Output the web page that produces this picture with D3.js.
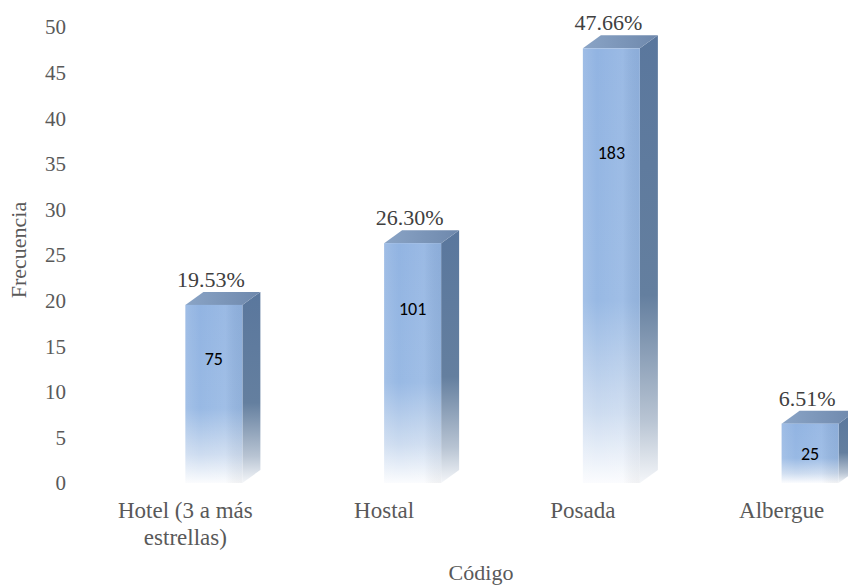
<!DOCTYPE html>
<html>
<head>
<meta charset="utf-8">
<script src="https://cdn.jsdelivr.net/npm/d3@7"></script>
<style>
  html, body { margin: 0; padding: 0; background: #ffffff; }
  svg { display: block; }
</style>
</head>
<body>
<script>
// Tipo de alojamiento: porcentaje (altura de la barra) y número de casos
const categories = [["Hotel (3 a más", "estrellas)"], ["Hostal"], ["Posada"], ["Albergue"]];
const percentages = [19.53, 26.30, 47.66, 6.51];
const counts = [75, 101, 183, 25];
const yTicks = [0, 5, 10, 15, 20, 25, 30, 35, 40, 45, 50];
const yTitle = "Frecuencia";
const xTitle = "Código";

const W = 848, H = 588;
const svg = d3.select("body").append("svg").attr("width", W).attr("height", H);

const keys = categories.map(c => c.join(" "));
const x = d3.scaleBand().domain(keys).range([86, 881]);
const y = d3.scaleLinear().domain([0, 50]).range([483, 27]);

const barW = 57, dx = 18, dy = -13;
const serif = "'Liberation Serif', 'Times New Roman', serif";
const sans = "Carlito, 'Open Sans', 'Noto Sans', sans-serif";

// Gradients for the three visible faces of each bar
const defs = svg.append("defs");
const front = defs.append("linearGradient").attr("id", "gFront")
  .attr("x1", 0).attr("y1", 0).attr("x2", 0).attr("y2", 1);
[[0, "#92b4e2"], [0.58, "#98b9e4"], [0.84, "#cddcf0"], [1, "#fbfcfe"]]
  .forEach(([o, c]) => front.append("stop").attr("offset", o).attr("stop-color", c));
const side = defs.append("linearGradient").attr("id", "gSide")
  .attr("x1", 0).attr("y1", 0).attr("x2", 0).attr("y2", 1);
[[0, "#5a779d"], [0.58, "#647f9f"], [0.86, "#b8c4d3"], [1, "#f4f6f9"]]
  .forEach(([o, c]) => side.append("stop").attr("offset", o).attr("stop-color", c));
const topG = defs.append("linearGradient").attr("id", "gTop")
  .attr("x1", 0).attr("y1", 0).attr("x2", 1).attr("y2", 0);
[[0, "#8aa4c6"], [1, "#6e88ac"]]
  .forEach(([o, c]) => topG.append("stop").attr("offset", o).attr("stop-color", c));
const sheen = defs.append("linearGradient").attr("id", "gSheen")
  .attr("x1", 0).attr("y1", 0).attr("x2", 1).attr("y2", 0);
[[0, "#ffffff", 0.12], [0.25, "#ffffff", 0], [0.7, "#ffffff", 0.08], [1, "#000000", 0.04]]
  .forEach(([o, c, a]) => sheen.append("stop").attr("offset", o).attr("stop-color", c).attr("stop-opacity", a));

const bars = keys.map((k, i) => ({ key: k, lines: categories[i], v: percentages[i], n: counts[i] }));
const centre = k => x(k) + x.bandwidth() / 2;

const g = svg.append("g");
bars.forEach(b => {
  const left = centre(b.key);   // front face starts at the category centre
  const right = left + barW;
  const top = y(b.v), bottom = y(0);
  const h = bottom - top;
  // side face
  g.append("path")
    .attr("d", `M${right},${top} L${right + dx},${top + dy} L${right + dx},${bottom + dy} L${right},${bottom} Z`)
    .attr("fill", "url(#gSide)");
  // top face
  g.append("path")
    .attr("d", `M${left},${top} L${left + dx},${top + dy} L${right + dx},${top + dy} L${right},${top} Z`)
    .attr("fill", "url(#gTop)");
  // front face
  g.append("rect").attr("x", left).attr("y", top).attr("width", barW).attr("height", h)
    .attr("fill", "url(#gFront)");
  g.append("rect").attr("x", left).attr("y", top).attr("width", barW).attr("height", h)
    .attr("fill", "url(#gSheen)");
  // count inside the bar
  g.append("text").attr("x", left + barW / 2).attr("y", top + 0.2 * h + 18)
    .attr("text-anchor", "middle").attr("dominant-baseline", "central")
    .attr("font-family", sans).attr("font-size", 18)
    .attr("fill", "#000").text(b.n);
  // percentage above the bar
  g.append("text").attr("x", left + barW / 2 - 3).attr("y", top + dy - 5)
    .attr("text-anchor", "middle").attr("font-family", serif).attr("font-size", 22)
    .attr("fill", "#404040").text(b.v.toFixed(2) + "%");
});

// y axis tick labels
svg.append("g").selectAll("text").data(yTicks).join("text")
  .attr("x", 66).attr("y", d => y(d)).attr("dy", "0.35em")
  .attr("text-anchor", "end").attr("font-family", serif).attr("font-size", 21)
  .attr("fill", "#595959").text(d => d);

// category labels
const cat = svg.append("g").selectAll("text").data(bars).join("text")
  .attr("x", d => centre(d.key)).attr("y", 518)
  .attr("text-anchor", "middle").attr("font-family", serif).attr("font-size", 23)
  .attr("fill", "#595959");
cat.selectAll("tspan").data(d => d.lines.map(l => ({ l, cx: centre(d.key) })))
  .join("tspan").attr("x", d => d.cx).attr("dy", (d, i) => i === 0 ? 0 : 27).text(d => d.l);

// axis titles
svg.append("text").attr("transform", "translate(18,250) rotate(-90)")
  .attr("text-anchor", "middle").attr("dominant-baseline", "central")
  .attr("font-family", serif).attr("font-size", 22).attr("fill", "#595959").text(yTitle);
svg.append("text").attr("x", 481).attr("y", 580)
  .attr("text-anchor", "middle").attr("font-family", serif).attr("font-size", 22)
  .attr("fill", "#595959").text(xTitle);
</script>
</body>
</html>
